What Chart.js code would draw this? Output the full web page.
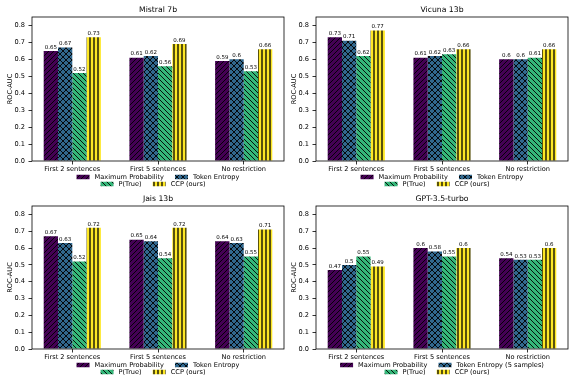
<!DOCTYPE html>
<html>
<head>
<meta charset="utf-8">
<script src="https://cdn.jsdelivr.net/npm/chart.js@4.4.0/dist/chart.umd.min.js"></script>
<style>
  body { margin: 0; background: #fff; }
  #wrap { position: relative; width: 576px; height: 384px; }
  .cell { position: absolute; width: 288px; height: 192px; }
</style>
</head>
<body>
<div id="wrap">
  <div class="cell" style="left:0;top:0"><canvas id="c0" width="288" height="192"></canvas></div>
  <div class="cell" style="left:288px;top:0"><canvas id="c1" width="288" height="192"></canvas></div>
  <div class="cell" style="left:0;top:192px"><canvas id="c2" width="288" height="192"></canvas></div>
  <div class="cell" style="left:288px;top:192px"><canvas id="c3" width="288" height="192"></canvas></div>
</div>
<script>
const CATEGORIES = ['First 2 sentences', 'First 5 sentences', 'No restriction'];
const METHOD_LABELS = ['Maximum Probability', 'Token Entropy', 'P(True)', 'CCP (ours)'];
const GPT_METHOD_LABELS = ['Maximum Probability', 'Token Entropy (5 samples)', 'P(True)', 'CCP (ours)'];
const Y_TICKS = [0, 0.1, 0.2, 0.3, 0.4, 0.5, 0.6, 0.7, 0.8];

const MISTRAL_MAX_PROB = [0.65, 0.61, 0.59];
const MISTRAL_TOKEN_ENTROPY = [0.67, 0.62, 0.6];
const MISTRAL_P_TRUE = [0.52, 0.56, 0.53];
const MISTRAL_CCP = [0.73, 0.69, 0.66];

const VICUNA_MAX_PROB = [0.73, 0.61, 0.6];
const VICUNA_TOKEN_ENTROPY = [0.71, 0.62, 0.6];
const VICUNA_P_TRUE = [0.62, 0.63, 0.61];
const VICUNA_CCP = [0.77, 0.66, 0.66];

const JAIS_MAX_PROB = [0.67, 0.65, 0.64];
const JAIS_TOKEN_ENTROPY = [0.63, 0.64, 0.63];
const JAIS_P_TRUE = [0.52, 0.54, 0.55];
const JAIS_CCP = [0.72, 0.72, 0.71];

const GPT_MAX_PROB = [0.47, 0.6, 0.54];
const GPT_TOKEN_ENTROPY = [0.5, 0.58, 0.53];
const GPT_P_TRUE = [0.55, 0.55, 0.53];
const GPT_CCP = [0.49, 0.6, 0.6];

const COLORS = ['#440154', '#31688e', '#35b779', '#fde725'];
const HATCHES = ['/', 'x', '\\', '|'];
const FONT = 'DejaVu Sans';

Chart.defaults.font.family = FONT;
Chart.defaults.color = '#000';

function makeHatch(ctx, color, kind) {
    const s = kind === '|' ? 4 : (kind === 'x' ? 6 : 5);
    const c = document.createElement('canvas');
    c.width = s;
    c.height = s;
    const g = c.getContext('2d');
    g.fillStyle = color;
    g.fillRect(0, 0, s, s);
    g.strokeStyle = '#000';
    g.lineWidth = kind === '|' ? 1.3 : 0.9;
    g.beginPath();
    for (let k = -1; k <= 1; k++) {
        if (kind === '/' || kind === 'x') {
            g.moveTo(k * s, s);
            g.lineTo(k * s + s, 0);
        }
        if (kind === '\\' || kind === 'x') {
            g.moveTo(k * s, 0);
            g.lineTo(k * s + s, s);
        }
    }
    if (kind === '|') {
        g.moveTo(s / 2, 0);
        g.lineTo(s / 2, s);
    }
    g.stroke();
    return ctx.createPattern(c, 'repeat');
}

const decor = {
    id: 'decor',
    afterDraw(chart, args, opts) {
        const ctx = chart.ctx;
        const a = chart.chartArea;
        const cx = (a.left + a.right) / 2;
        ctx.save();

        // frame
        ctx.strokeStyle = '#000';
        ctx.lineWidth = 0.8;
        ctx.strokeRect(a.left, a.top, a.right - a.left, a.bottom - a.top);

        // value labels
        ctx.fillStyle = '#000';
        ctx.font = '5.5px ' + FONT;
        ctx.textAlign = 'center';
        ctx.textBaseline = 'bottom';
        chart.data.datasets.forEach(function (ds, i) {
            chart.getDatasetMeta(i).data.forEach(function (bar, j) {
                ctx.fillText(String(ds.data[j].y), bar.x, bar.y - 1);
            });
        });

        // title
        ctx.font = '7.7px ' + FONT;
        ctx.textBaseline = 'middle';
        ctx.fillText(opts.title, cx, a.top - 6.5);

        // y axis title
        ctx.font = '6.6px ' + FONT;
        ctx.save();
        ctx.translate(a.left - 21.5, (a.top + a.bottom) / 2);
        ctx.rotate(-Math.PI / 2);
        ctx.fillText('ROC-AUC', 0, 0);
        ctx.restore();

        // legend, two centered rows
        const rows = [[0, 1], [2, 3]];
        const rowY = [a.bottom + 16, a.bottom + 23];
        const rowShift = [0, -5];
        const swW = 13, swH = 4.5, swGap = 5, itemGap = 11;
        ctx.textAlign = 'left';
        rows.forEach(function (row, r) {
            const widths = row.map(function (i) {
                return swW + swGap + ctx.measureText(chart.data.datasets[i].label).width;
            });
            const total = widths.reduce(function (p, w) { return p + w; }, 0) + itemGap * (row.length - 1);
            let x = cx - total / 2 + rowShift[r];
            row.forEach(function (i, k) {
                const ds = chart.data.datasets[i];
                ctx.fillStyle = ds.backgroundColor;
                ctx.fillRect(x, rowY[r] - swH / 2, swW, swH);
                ctx.fillStyle = '#000';
                ctx.fillText(ds.label, x + swW + swGap, rowY[r]);
                x += widths[k] + itemGap;
            });
        });
        ctx.restore();
    }
};

function buildChart(id, title, labels, series, area) {
    const canvas = document.getElementById(id);
    const ctx = canvas.getContext('2d');
    const datasets = series.map(function (vals, i) {
        return {
            label: labels[i],
            data: vals.map(function (v, j) { return { x: j, y: v }; }),
            backgroundColor: makeHatch(ctx, COLORS[i], HATCHES[i]),
            borderWidth: 0,
            categoryPercentage: 0.667,
            barPercentage: 1
        };
    });

    return new Chart(ctx, {
        type: 'bar',
        data: { datasets: datasets },
        plugins: [decor],
        options: {
            responsive: false,
            animation: false,
            events: [],
            layout: {
                padding: { left: 0, top: area.top, right: 288 - area.right, bottom: 0 }
            },
            plugins: {
                legend: { display: false },
                title: { display: false },
                tooltip: { enabled: false },
                decor: { title: title }
            },
            scales: {
                x: {
                    type: 'linear',
                    offset: false,
                    min: -0.47,
                    max: 2.47,
                    afterBuildTicks: function (s) {
                        s.ticks = CATEGORIES.map(function (c, i) { return { value: i }; });
                    },
                    afterFit: function (s) { s.height = 192 - area.bottom; },
                    ticks: {
                        autoSkip: false,
                        maxRotation: 0,
                        padding: 1,
                        font: { size: 6.6 },
                        callback: function (v) { return CATEGORIES[v]; }
                    },
                    grid: { offset: false, drawOnChartArea: false, tickLength: 3.5, color: '#000', lineWidth: 0.8 },
                    border: { display: false }
                },
                y: {
                    type: 'linear',
                    min: 0,
                    max: 0.85,
                    afterBuildTicks: function (s) {
                        s.ticks = Y_TICKS.map(function (v) { return { value: v }; });
                    },
                    afterFit: function (s) { s.width = area.left; },
                    ticks: {
                        padding: 3.5,
                        font: { size: 6.6 },
                        callback: function (v) { return v.toFixed(1); }
                    },
                    grid: { drawOnChartArea: false, tickLength: 3.5, color: '#000', lineWidth: 0.8 },
                    border: { display: false }
                }
            }
        }
    });
}

buildChart('c0', 'Mistral 7b', METHOD_LABELS,
    [MISTRAL_MAX_PROB, MISTRAL_TOKEN_ENTROPY, MISTRAL_P_TRUE, MISTRAL_CCP],
    { left: 32, right: 284, top: 17, bottom: 161 });
buildChart('c1', 'Vicuna 13b', METHOD_LABELS,
    [VICUNA_MAX_PROB, VICUNA_TOKEN_ENTROPY, VICUNA_P_TRUE, VICUNA_CCP],
    { left: 28, right: 280, top: 17, bottom: 161 });
buildChart('c2', 'Jais 13b', METHOD_LABELS,
    [JAIS_MAX_PROB, JAIS_TOKEN_ENTROPY, JAIS_P_TRUE, JAIS_CCP],
    { left: 32, right: 284, top: 14, bottom: 157 });
buildChart('c3', 'GPT-3.5-turbo', GPT_METHOD_LABELS,
    [GPT_MAX_PROB, GPT_TOKEN_ENTROPY, GPT_P_TRUE, GPT_CCP],
    { left: 28, right: 280, top: 14, bottom: 157 });
</script>
</body>
</html>
